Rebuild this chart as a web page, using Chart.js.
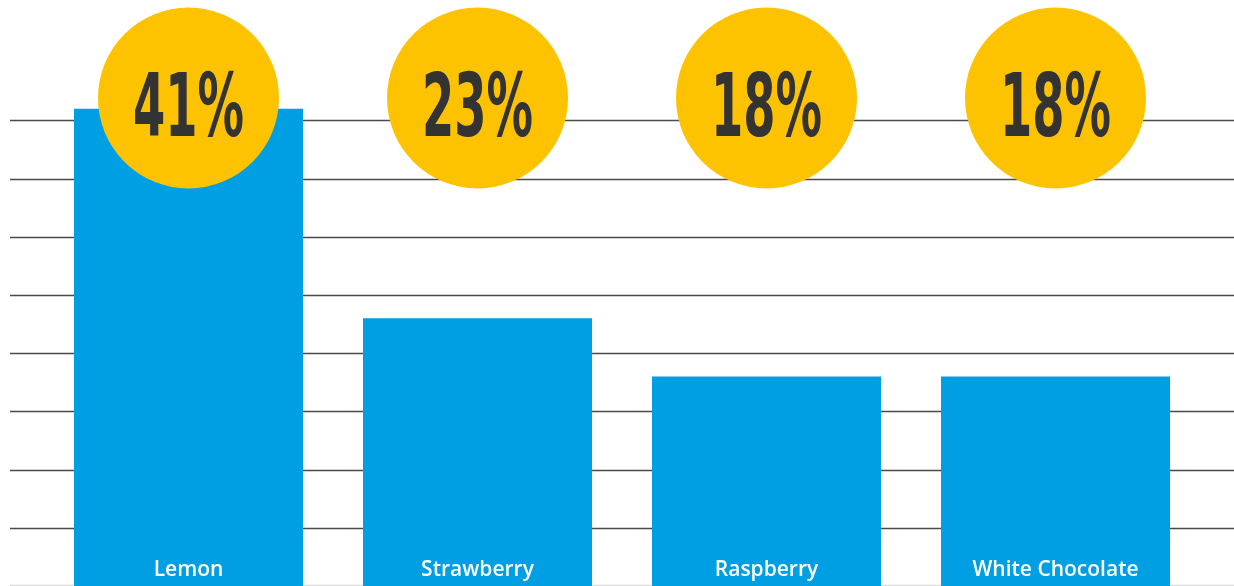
<!DOCTYPE html>
<html>
<head>
<meta charset="utf-8">
<script src="https://cdn.jsdelivr.net/npm/chart.js@4"></script>
<style>
  html, body { margin: 0; padding: 0; background: #fff; }
  #wrap { width: 1234px; height: 586px; }
</style>
</head>
<body>
<div id="wrap"><canvas id="grafico"></canvas></div>
<script>
var categories = ['Lemon', 'Strawberry', 'Raspberry', 'White Chocolate'];
var values = [41, 23, 18, 18];
var gridValues = [5, 10, 15, 20, 25, 30, 35, 40];

// horizontal rules run across the whole canvas, not just the chart area
var gridPlugin = {
    id: 'fullGrid',
    beforeDatasetsDraw: function (chart) {
        var c = chart.ctx;
        var y = chart.scales.y;
        c.save();
        c.lineWidth = 1.3;
        c.strokeStyle = '#4a4a4a';
        gridValues.forEach(function (v) {
            var py = Math.round(y.getPixelForValue(v)) + 0.5;
            c.beginPath();
            c.moveTo(10, py);
            c.lineTo(chart.width, py);
            c.stroke();
        });
        c.strokeStyle = '#dcdcdc';
        var py0 = Math.round(y.getPixelForValue(0)) - 0.5;
        c.beginPath();
        c.moveTo(10, py0);
        c.lineTo(chart.width, py0);
        c.stroke();
        c.restore();
    }
};

// yellow badges with the percentage and the white name inside each bar
var badgePlugin = {
    id: 'badges',
    afterDatasetsDraw: function (chart) {
        var c = chart.ctx;
        var meta = chart.getDatasetMeta(0);
        c.save();
        meta.data.forEach(function (bar, i) {
            c.fillStyle = '#fdc300';
            c.beginPath();
            c.arc(bar.x, 98, 90.5, 0, Math.PI * 2);
            c.fill();

            var txt = values[i] + '%';
            c.font = 'bold 88px "Liberation Sans Narrow", "DejaVu Sans Condensed", sans-serif';
            var w = c.measureText(txt).width;
            var sx = 111 / w;
            c.save();
            c.translate(bar.x, 136);
            c.scale(sx, 1);
            c.fillStyle = '#333333';
            c.textAlign = 'center';
            c.textBaseline = 'alphabetic';
            c.fillText(txt, 0, 0);
            c.restore();

            c.font = '600 21px "Open Sans", sans-serif';
            c.fillStyle = '#ffffff';
            c.textAlign = 'center';
            c.textBaseline = 'alphabetic';
            c.fillText(categories[i], bar.x, 576);
        });
        c.restore();
    }
};

var ctx = document.getElementById('grafico').getContext('2d');
var grafico = new Chart(ctx, {
    type: 'bar',
    data: {
        labels: categories,
        datasets: [
            {
                data: values,
                backgroundColor: '#009fe3',
                borderWidth: 0,
                categoryPercentage: 1.0,
                barPercentage: 0.7924
            }
        ]
    },
    options: {
        responsive: true,
        maintainAspectRatio: false,
        animation: false,
        layout: {
            padding: { left: 44, right: 34, top: 0, bottom: 0 }
        },
        plugins: {
            legend: { display: false },
            tooltip: { enabled: false }
        },
        scales: {
            x: { display: false },
            y: {
                display: false,
                min: 0,
                max: 50.35
            }
        }
    },
    plugins: [gridPlugin, badgePlugin]
});
</script>
</body>
</html>
